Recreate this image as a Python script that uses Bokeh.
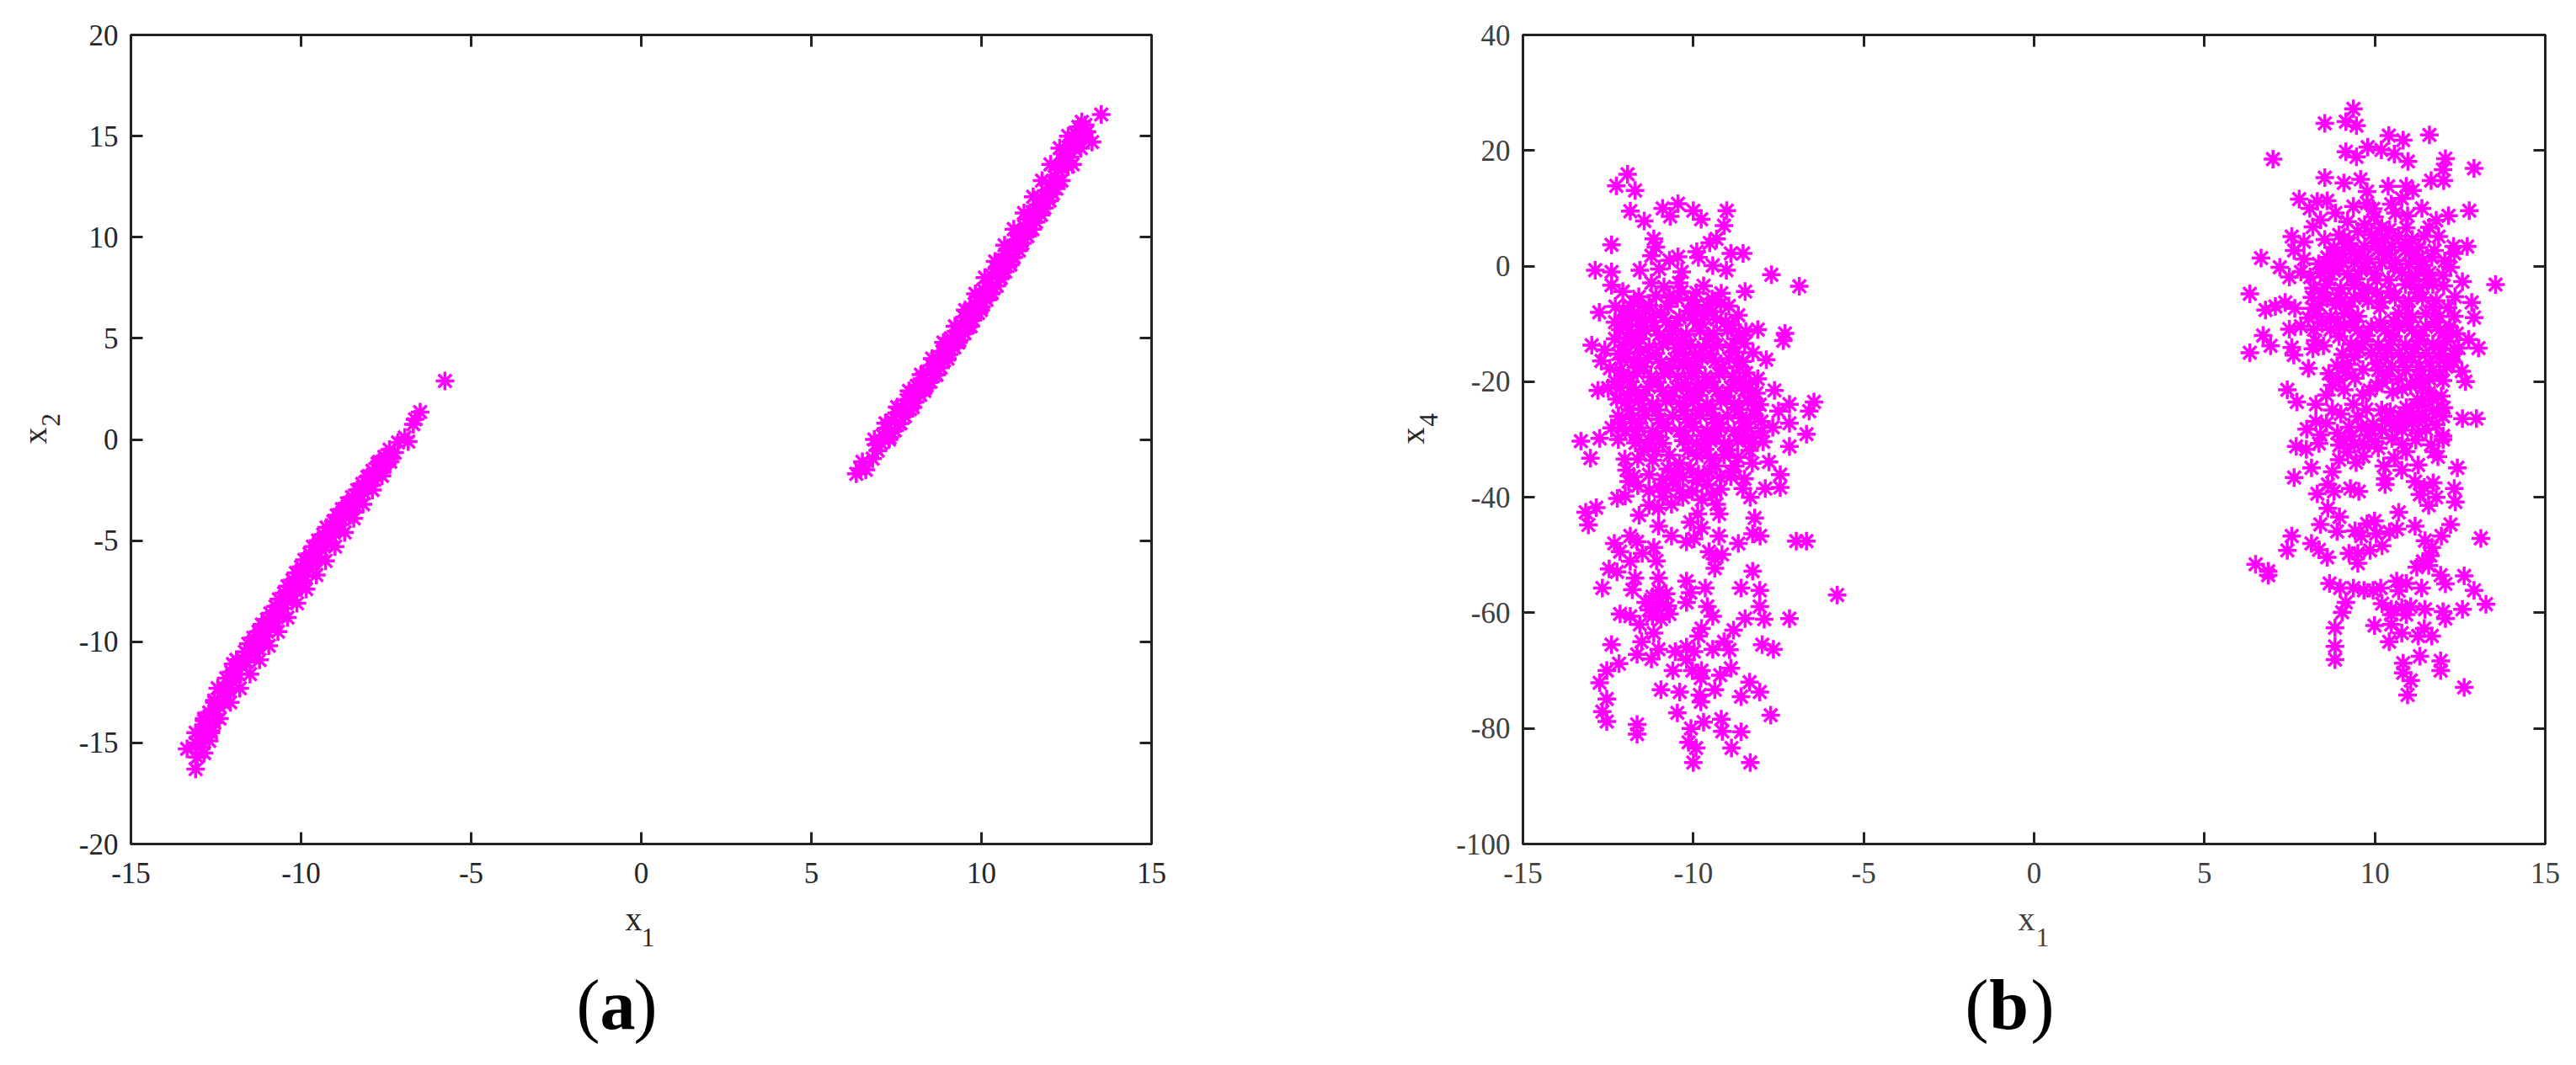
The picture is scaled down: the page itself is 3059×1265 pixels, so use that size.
from math import pi
from bokeh.core.properties import value
from bokeh.embed import file_html
from bokeh.layouts import column, row
from bokeh.models import ColumnDataSource, FixedTicker, LinearAxis, Range1d
from bokeh.plotting import figure
from bokeh.resources import INLINE

x1_ticks = [-15, -10, -5, 0, 5, 10, 15]
x2_ticks = [-20, -15, -10, -5, 0, 5, 10, 15, 20]
x4_ticks = [-100, -80, -60, -40, -20, 0, 20, 40]
MAGENTA = "#ff00ff"
AXIS = "#222222"
FONT = "Liberation Serif"

a_left = [
(-13.35,-15.3),(-13.1,-16.3),(-13.05,-15.7),(-13.1,-15.0),(-12.95,-15.2),(-12.85,-15.5),(-12.9,-14.5),(-12.7,-14.9),
(-12.65,-14.4),(-12.85,-13.9),(-12.55,-14.0),(-12.5,-13.6),(-12.7,-13.5),(-12.4,-13.2),(-12.55,-12.9),(-12.3,-13.0),
(-12.25,-12.5),(-12.45,-12.3),(-12.15,-12.4),(-12.2,-11.8),(-12.0,-12.0),(-12.05,-11.5),(-11.85,-11.6),(-12.0,-11.1),
(-11.75,-11.2),(-11.9,-10.9),(-11.6,-11.0),(-11.65,-10.5),(-11.45,-10.6),(-11.55,-10.1),(-11.3,-10.3),(-11.4,-9.8),
(-11.15,-10.0),(-11.25,-9.5),(-11.05,-9.7),(-11.15,-9.15),(-10.9,-9.3),(-11.0,-8.9),(-10.75,-9.0),(-10.9,-8.6),
(-10.65,-8.7),(-10.75,-8.25),(-10.5,-8.35),(-10.65,-7.9),(-10.4,-8.0),(-10.5,-7.6),(-10.25,-7.7),(-10.4,-7.25),
(-10.15,-7.4),(-10.25,-6.95),(-10.0,-7.1),(-10.15,-6.6),(-9.9,-6.75),(-10.0,-6.3),(-9.75,-6.4),(-9.9,-5.95),
(-9.65,-6.1),(-9.75,-5.65),(-9.5,-5.8),(-9.65,-5.3),(-9.4,-5.45),(-9.5,-5.0),(-9.25,-5.1),(-9.35,-4.7),
(-9.1,-4.8),(-9.25,-4.35),(-9.0,-4.5),(-9.05,-4.05),(-8.85,-4.2),(-8.95,-3.75),(-8.7,-3.85),(-8.8,-3.45),
(-8.55,-3.6),(-8.65,-3.15),(-8.4,-3.3),(-8.5,-2.85),(-8.3,-3.0),(-8.35,-2.5),(-8.15,-2.65),(-8.2,-2.2),
(-8.0,-2.3),(-8.05,-1.85),(-7.85,-2.0),(-7.9,-1.55),(-7.7,-1.65),(-7.75,-1.2),(-7.55,-1.35),(-7.55,-0.85),
(-7.4,-0.95),(-7.4,-0.5),(-7.25,-0.65),(-7.15,-0.15),(-6.95,0.1),(-6.85,-0.1),(-6.65,1.0),(-6.7,0.75),(-6.5,1.35),(-5.77,2.89),
(-13.1,-14.5),(-12.65,-14.5),(-12.85,-13.8),(-12.4,-13.8),(-12.55,-13.0),(-12.08,-13.0),(-12.25,-12.3),(-11.8,-12.3),
(-11.95,-11.6),(-11.5,-11.6),(-11.7,-10.9),(-11.22,-10.9),(-11.4,-10.2),(-10.95,-10.2),(-11.12,-9.5),(-10.68,-9.5),
(-10.85,-8.8),(-10.4,-8.8),(-10.55,-8.1),(-10.12,-8.1),(-10.28,-7.4),(-9.85,-7.4),(-10.0,-6.7),(-9.55,-6.7),
(-9.72,-6.0),(-9.28,-6.0),(-9.45,-5.3),(-9.0,-5.3),(-9.15,-4.6),(-8.72,-4.6),(-8.88,-3.9),(-8.45,-3.9),
(-8.6,-3.2),(-8.18,-3.2),(-8.3,-2.5),(-7.9,-2.5),(-8.0,-1.8),(-7.62,-1.8),(-7.7,-1.1),(-7.38,-1.1),
]
a_right = [
(6.32,-1.7),(6.45,-1.45),(6.6,-1.5),(6.5,-1.1),(6.8,-0.95),(6.95,-0.55),(7.05,-0.2),(6.9,-0.25),(7.1,0.2),(7.3,0.1),
(7.2,0.55),(7.45,0.45),(7.35,0.95),(7.6,0.8),(7.5,1.3),(7.75,1.15),(7.65,1.6),(7.9,1.5),(7.8,1.95),(8.05,1.85),
(7.95,2.3),(8.2,2.2),(8.1,2.65),(8.35,2.55),(8.25,3.0),(8.5,2.85),(8.4,3.35),(8.65,3.2),(8.55,3.65),(8.8,3.55),
(8.7,4.0),(8.9,3.9),(8.85,4.35),(9.05,4.2),(8.95,4.7),(9.2,4.55),(9.1,5.0),(9.35,4.9),(9.25,5.35),(9.5,5.25),
(9.4,5.7),(9.6,5.55),(9.5,6.05),(9.75,5.9),(9.65,6.4),(9.9,6.25),(9.8,6.7),(10.0,6.55),(9.9,7.05),(10.15,6.9),
(10.05,7.4),(10.3,7.25),(10.2,7.75),(10.45,7.6),(10.3,8.1),(10.55,7.95),(10.45,8.45),(10.7,8.3),(10.6,8.8),(10.85,8.65),
(10.7,9.15),(10.95,9.0),(10.85,9.5),(11.1,9.35),(11.0,9.85),(11.2,9.7),(11.1,10.2),(11.35,10.05),(11.25,10.55),(11.5,10.4),
(11.4,10.9),(11.6,10.75),(11.5,11.25),(11.75,11.1),(11.65,11.6),(11.85,11.45),(11.75,11.95),(12.0,11.8),(11.9,12.3),(12.1,12.15),
(12.0,12.65),(12.2,12.4),(12.15,13.0),(12.35,12.8),(12.25,13.35),(12.68,13.6),(12.4,13.7),(12.55,13.5),(12.45,14.1),(12.6,13.95),
(12.6,14.45),(12.92,14.4),(12.7,14.8),(12.85,14.7),(12.75,15.15),(13.25,14.7),(13.0,14.95),(13.1,15.2),(12.85,15.45),(12.95,15.7),(13.05,15.55),(13.52,16.07),
(6.85,0),(7.28,0),(7.18,0.8),(7.62,0.8),(7.52,1.6),(7.98,1.6),(7.87,2.4),(8.32,2.4),(8.22,3.2),(8.68,3.2),(8.55,4),(9.0,4),
(8.88,4.8),(9.32,4.8),(9.22,5.6),(9.68,5.6),(9.52,6.4),(9.98,6.4),(9.82,7.2),(10.28,7.2),(10.1,8),(10.56,8),(10.4,8.8),(10.85,8.8),
(10.68,9.6),(11.13,9.6),(10.95,10.4),(11.42,10.4),(11.25,11.2),(11.7,11.2),(11.52,12),(11.98,12),(11.78,12.8),(12.25,12.8),
(12.03,13.6),(12.48,13.6),(12.3,14.4),(12.72,14.4),(12.55,15),(12.9,15),
]
b_left = [
(-11.93,15.9),(-12.26,13.9),(-11.71,13.1),(-11.85,9.5),(-11.44,7.8),(-10.9,10),(-10.68,8.6),(-10.45,10.8),(-10,9.6),(-9.77,8.1),
(-9.02,9.6),(-9.1,7.0),(-9.32,4.7),(-9.52,4),(-11.16,4.7),(-11.1,3.3),(-12.4,3.7),(-11.23,1.8),(-9.9,2.5),(-9.85,1.5),(-8.9,2.2),
(-8.54,2.2),(-10.7,1),(-10.45,1.6),(-9.43,.1),(-9.03,-.7),(-12.88,-.7),(-12.4,-1),(-11.57,-.7),(-11,-.5),(-10.34,-1),(-7.71,-1.5),
(-6.89,-3.5),(-12.4,-3.3),(-12.07,-4.4),(-11.23,-2.9),(-10.42,-2.9),(-9.7,-3.4),(-8.48,-4.4),(-9.18,-4.7),(-9.91,-4.6),(-11.1,-5.1),
(-10.47,-5.6),(-10.86,-3.6),(-12.29,-7),(-12.76,-8),(-11.74,-6.3),(-11.3,-6.8),(-10.75,-7),(-9.92,-6.8),(-9.6,-6.8),(-8.96,-6.9),
(-8.68,-8.5),(-9.32,-9.2),(-8.11,-11),(-8.46,-11.3),(-7.31,-11.65),(-7.36,-12.9),(-7.86,-16.2),(-12.98,-13.7),(-12.6,-14.5),
(-12.7,-16.4),(-12.45,-17.7),(-8.11,-19.5),(-7.62,-21.5),(-12.8,-21.5),(-12.5,-21.1),(-6.46,-23.5),(-6.6,-25.1),(-7.18,-23.9),
(-7.5,-25.1),(-7.18,-27.2),(-7.67,-27.9),(-6.68,-29.1),(-13.3,-30.3),(-13.02,-33.25),(-12.75,-29.8),(-7.18,-31.2),
(-12.01,-33.4),(-11.63,-33.4),(-11.19,-33.6),(-10.7,-32.7),(-10.4,-34.1),(-11.96,-35.3),(-11.3,-36.1),(-11.9,-37.3),(-11.63,-38),
(-11,-38.3),(-12.23,-40.2),(-12.85,-41.8),(-13.16,-42.6),(-13.08,-44.8),(-11.59,-43.1),(-11.3,-41.4),(-11.02,-41.9),(-11.02,-45),
(-10.64,-41.2),(-10.31,-40),(-10.03,-39),(-10.09,-35.1),(-9.54,-35.6),(-9.21,-36.6),(-8.77,-34.6),(-8.27,-34.1),(-7.78,-33.9),
(-7.45,-36.1),(-7.45,-38.3),(-7.89,-38.5),(-8.55,-38.5),(-8.33,-40),(-9.32,-41.2),(-9.24,-42.9),(-8.2,-43.6),(-8.26,-46.3),
(-8.04,-46.7),(-9.25,-46.7),(-8.68,-48),(-6.98,-47.6),(-6.68,-47.6),(-9.87,-42.9),(-10.09,-44.3),(-9.76,-45.3),(-10.64,-46.7),
(-10.2,-47.7),(-9.98,-47.2),(-9.54,-49.4),(-9.16,-49.9),(-9.37,-50.6),(-9.37,-52.3),(-11.85,-46.7),(-11.65,-47.7),(-12.32,-48),
(-12.15,-49.4),(-11.16,-48.7),(-11.5,-49.7),(-11.85,-51.1),(-11.08,-51),(-12.47,-52.4),(-12.24,-52.9),(-11.71,-54),(-11.02,-54),
(-12.67,-55.7),(-11.79,-56),(-8.26,-52.8),(-8.6,-55.7),(-8.05,-56.1),(-5.78,-56.9),(-9.65,-55.7),(-10.2,-54.5),(-10.09,-56.5),
(-10.2,-58.2),(-9.59,-58.9),(-9.43,-60.6),(-8.05,-58.9),(-7.92,-61.1),(-8.48,-61),(-7.18,-61),(-11,-56.2),(-11.2,-57.2),(-10.8,-56.7),
(-11.4,-58.2),(-11,-58.2),(-10.7,-60.2),(-11.2,-60.6),(-10.95,-61.1),(-11.3,-59.5),(-11.05,-59.5),(-10.75,-58.8),(-12.15,-60.2),(-11.85,-60.6),
(-11.57,-62),(-11.16,-63.5),(-9.76,-62.7),(-9.85,-64),(-8.82,-63),(-9.1,-65),(-7.98,-65.5),(-7.65,-66.3),(-12.4,-65.5),(-11.52,-65),
(-11.65,-67.2),(-11.02,-66.3),(-11.23,-68),(-10.53,-66.7),(-10.2,-65.9),(-9.98,-66.7),(-9.43,-66.3),(-8.94,-66.4),(-10.2,-68.1),
(-12.18,-68.8),(-12.54,-70),(-12.75,-72.1),(-10.6,-70),(-10.03,-70),(-9.76,-70),(-9.78,-71.3),(-9.21,-70.8),(-8.9,-69.6),(-8.35,-72),
(-8.05,-73.7),(-9.37,-73.3),(-8.6,-74.5),(-10.95,-73.3),(-10.4,-73.7),(-9.81,-74.2),(-9.78,-75.4),(-12.54,-74.9),(-12.67,-77.1),
(-12.54,-78.8),(-10.47,-77.3),(-7.73,-77.7),(-9.7,-78.9),(-9.18,-78.4),(-9.15,-80.5),(-8.6,-80.6),(-10.07,-80),(-11.65,-79.3),
(-11.65,-81),(-10.14,-82.4),(-9.92,-83.4),(-8.88,-83.4),(-10,-85.9),(-8.33,-85.9),
# dense core
(-12.0,-9),(-11.6,-9.4),(-11.2,-8.8),(-10.8,-9.6),(-10.4,-8.9),(-10.0,-9.3),(-9.7,-8.6),(-12.15,-11),(-11.8,-11.6),(-11.4,-11.1),
(-11,-11.9),(-10.6,-11.3),(-10.2,-11.8),(-9.8,-11.2),(-9.4,-11.7),(-9,-11.1),(-12.05,-13.8),(-11.7,-13.3),(-11.3,-14),(-10.9,-13.5),
(-10.5,-14.2),(-10.1,-13.6),(-9.7,-14.1),(-9.3,-13.6),(-8.9,-14),(-8.5,-13.4),(-12.1,-16.1),(-11.75,-16.6),(-11.35,-16),(-10.95,-16.7),
(-10.55,-16.1),(-10.15,-16.5),(-9.75,-15.9),(-9.35,-16.5),(-8.95,-16),(-8.55,-16.5),(-12.05,-19),(-11.65,-18.5),(-11.25,-19.2),(-10.85,-18.6),
(-10.45,-19.1),(-10.05,-18.5),(-9.65,-19.2),(-9.25,-18.6),(-8.85,-19.1),(-8.45,-18.5),(-12.15,-21),(-11.7,-21.5),(-11.3,-20.9),(-10.9,-21.6),
(-10.5,-21),(-10.1,-21.5),(-9.7,-21),(-9.3,-21.6),(-8.9,-21),(-8.5,-21.5),(-8.15,-22),(-12,-23.6),(-11.6,-23.2),(-11.2,-23.9),(-10.8,-23.3),
(-10.4,-23.8),(-10,-23.2),(-9.6,-23.9),(-9.2,-23.3),(-8.8,-23.8),(-8.4,-23.4),(-8.05,-24),(-12.2,-26),(-11.8,-26.4),(-11.4,-25.8),(-11,-26.5),
(-10.6,-25.9),(-10.2,-26.4),(-9.8,-25.8),(-9.4,-26.4),(-9,-25.9),(-8.6,-26.3),(-8.2,-25.9),(-12.4,-28),(-12,-28.5),(-11.6,-28),(-11.2,-28.6),
(-10.8,-28),(-10.4,-28.5),(-10,-27.9),(-9.6,-28.5),(-9.2,-28),(-8.8,-28.5),(-8.4,-28),(-8,-28.6),(-11.7,-30.6),(-11.3,-30.1),(-10.9,-30.7),
(-10.3,-30.2),(-9.9,-30.7),(-9.5,-30.2),(-9.1,-30.7),(-8.7,-30.2),(-8.3,-30.7),(-9.9,-32.8),(-9.5,-33.2),(-9.1,-32.7),(-8.7,-33.1),
(-9.6,-37.8),(-9.2,-38.6),(-10.6,-37),(-10.8,-38.6),(-10.4,-38.8),(-9.9,-37.2),(-8.9,-36.4),(-8.5,-36.8),
# second core layer
(-11.4,-7.7),(-10.95,-8.1),(-10.15,-7.8),(-9.45,-7.9),(-10.55,-10.2),(-11.15,-10.4),(-9.75,-9.9),(-9.05,-9.6),(-11.55,-12.6),(-10.75,-12.4),
(-10.35,-12.9),(-9.55,-12.5),(-8.75,-12.6),(-11.95,-12.4),(-11.1,-15.1),(-10.3,-15),(-9.5,-15.2),(-8.75,-14.9),(-11.55,-14.9),(-9.95,-15.3),
(-11.45,-17.4),(-10.7,-17.7),(-9.9,-17.5),(-9.15,-17.6),(-10.3,-17.2),(-8.65,-17.4),(-11.85,-20),(-11.05,-20.1),(-10.25,-20.2),(-9.45,-20),(-8.65,-20),
(-9.85,-20.4),(-11.45,-22.3),(-10.65,-22.5),(-9.85,-22.4),(-9.05,-22.6),(-8.3,-22.7),(-10.2,-22.7),(-11.85,-24.8),(-11.05,-24.9),(-10.25,-25),
(-9.45,-24.7),(-8.65,-24.8),(-9.85,-24.9),(-11.6,-27.2),(-10.9,-27.2),(-10.05,-27),(-9.3,-27.2),(-8.5,-27.1),(-11.05,-29.5),(-10.25,-29.4),
(-9.35,-29.4),(-8.55,-29.5),(-9.7,-29.3),(-8.95,-31.8),(-9.65,-31.7),(-10.15,-31.9),(-11.1,-32),(-8.35,-31.9),(-9.35,-34.6),(-8.9,-35.6),
(-9.85,-36),(-10.3,-36.5),(-9.45,-39.5),(-9.75,-40.4),(-10.9,-39.9),
# third core layer
(-12.05,-7.6),(-11.8,-8.4),(-12.3,-9.7),(-11.95,-10.2),(-11.55,-10.4),(-12.3,-12.6),(-11.95,-15.1),(-12.2,-15.2),(-11.65,-17.5),(-12.15,-18),
(-12.3,-20),(-11.9,-22.4),(-12.25,-23),(-11.5,-24.7),(-12.1,-27.1),(-11.7,-29.2),(-12.2,-30),(-11.45,-31.7),(-10.55,-35.6),(-10.75,-35.1),
(-10.9,-36.9),(-11.3,-38.9),(-12,-39.8),(-11.75,-36.4),(-8.3,-29.6),(-7.95,-30.4),(-8,-26.9),(-8.2,-24.8),(-8.35,-20.4),(-8.25,-15),(-8.65,-12),
(-8.85,-10.2),(-9.9,-7.8),(-9.2,-6.5),(-10.05,-5.9),(-10.7,-5.4),(-11.6,-5.3),(-10.35,-4.4),(-9.45,-5.7),(-11.5,-8.9),(-11.85,-6.9),
]
b_right = [
(9.37,27.2),(9.15,25),(9.46,24.3),(8.53,24.7),(10.41,22.6),(10.83,21.8),(11.6,22.7),(9.79,20.6),(10.19,20.1),(10.57,19.4),(9.15,19.8),
(9.46,18.9),(10.97,18.1),(7.01,18.5),(12.07,18.6),(12.0,16.7),(12.91,16.9),(12.02,14.8),(11.65,14.8),(8.53,15.3),(9.09,14.4),(9.58,15),
(10.39,13.8),(10.92,13.8),(11.11,13.1),(9.77,12.9),(7.78,11.6),(8.31,11.2),(8.6,11.3),(8.09,10),(10.48,10.7),(10.79,11.7),(9.37,10.3),
(9.77,10.9),(11.38,10),(12.77,9.6),(12.16,8.7),(11.8,7.9),(8.84,9.2),(8.4,8),(8.18,6.8),(10.96,8.7),(9.99,8.5),(10.43,6.3),(10.92,6.6),
(7.56,5.1),(7.92,4.2),(11.87,5.1),(12.31,3.4),(12.71,3.4),(8.53,4.6),(7.63,2.7),(6.66,1.4),(7.21,-.2),(7.92,1.2),(12.33,2.2),(11.67,1.5),
(12.22,-.2),(7.49,-1.9),(7.83,-1),(12.57,-2.7),(13.54,-3.2),(6.33,-4.8),(12.02,-3.4),(12.84,-6.3),(12.91,-8.9),(12.33,-8.7),(7.37,-6.3),
(7.08,-7),(6.79,-7.6),(7.65,-7.3),(8.18,-7.3),(7.49,-10.9),(7.83,-10.4),(8.21,-11),(6.72,-12),(6.94,-13.8),(6.33,-15),(7.56,-14.1),
(7.62,-15.4),(8.18,-14.3),(8.49,-13.8),(8.05,-17.7),(13.04,-14.2),(12.46,-14.2),(12.55,-18.2),(12.66,-20),(8.89,-17.2),(9.42,-19.4),
(8.75,-20.6),(7.43,-21.4),(7.71,-23.5),(9.64,-22.3),(8.58,-22.3),(10.52,-21.8),(10.21,-20.1),(9.37,-23.9),(8.27,-23.9),(11.05,-20.6),
(11.58,-22),(12.02,-24.5),(12.57,-26.4),(12.98,-26.4),(8.27,-26.9),(8.58,-27.2),(8.0,-28.2),(9.24,-27.9),(9.6,-27.9),(9.95,-27.4),(10.3,-26.7),
(10.74,-26),(10.92,-24.5),(11.8,-27.4),(11.27,-28.9),(12,-29.4),(7.69,-31.2),(7.99,-31.7),(8.36,-30.7),(8.96,-31),(9.66,-32.9),(9.68,-31),
(12,-30),(11.73,-32.1),(12.42,-34.9),(8.14,-34.9),(8.75,-35.6),(7.63,-36.6),(8.62,-37.8),(8.31,-39.4),(8.8,-39),(9.28,-38.5),(9.53,-39),
(8.62,-41.9),(8.96,-43.4),(8.4,-44.7),(8.89,-45.9),(7.56,-46.7),(7.43,-49.2),(8.14,-48),(8.36,-49.1),(8.6,-50.4),(6.5,-51.6),(6.87,-52.8),(6.87,-53.5),
(10.26,-34.6),(10.57,-33.2),(10.92,-32.1),(11.27,-34.4),(10.79,-35.3),(10.3,-37.8),(10.3,-36.8),(11.18,-37.3),(11.71,-37.5),(11.45,-38.3),
(11.32,-39.5),(11.8,-40),(11.58,-41.4),(12.33,-38.5),(12.36,-40.8),(10.7,-42.6),(12.22,-44.7),(11.18,-45),(13.11,-47.1),(11.95,-46.7),(11.47,-47.5),(11.67,-48.7),
(9.42,-45.8),(9.77,-44.6),(9.99,-44.1),(9.6,-46.7),(10.04,-46.3),(10.43,-46),(10.65,-45.5),(10.21,-48.4),(9.86,-49.2),(9.5,-49.7),(9.24,-49.7),(9.5,-51.4),
(11.63,-50.1),(11.41,-51.1),(11.23,-52.1),(11.58,-51.8),(11.93,-53.5),(12.07,-55),(12.62,-53.6),(12.91,-56.1),(13.26,-58.5),(8.67,-54.9),(8.98,-55.7),
(9.37,-55.7),(9.68,-56.1),(9.95,-56.1),(10.17,-55.7),(10.64,-54.5),(10.92,-54.9),(10.7,-56.2),(11.37,-55.7),(9.15,-58.2),(9.04,-59.9),(10.21,-58.4),
(10.48,-59.4),(10.79,-59.1),(11.05,-58.9),(11.47,-59.4),(10.92,-60.3),(10.48,-60.3),(12,-59.8),(12.07,-61),(12.57,-59.4),(8.83,-62.6),(9.99,-62.2),
(10.48,-62),(10.79,-63.5),(11.27,-64),(11.45,-62.7),(11.67,-64),(10.42,-65),(8.83,-65.8),(8.83,-68.1),(11.32,-67.5),(10.83,-68.7),(11.93,-68.3),
(11.93,-70),(10.83,-70.4),(11.05,-71.7),(12.62,-72.9),(10.96,-74.2),
# dense core
(9.5,6),(9.9,5.4),(10.3,4.8),(10.7,5.2),(11.1,4.6),(9.1,4.8),(8.8,3.2),(9.3,2.8),(9.7,3.4),(10.1,2.8),(10.5,3.3),(10.9,2.7),(11.3,3.2),(8.6,1.5),
(9,1),(9.4,0.6),(9.8,1.2),(10.2,0.6),(10.6,1),(11,0.4),(11.4,0.9),(8.4,-1.2),(8.8,-0.8),(9.2,-1.4),(9.6,-0.7),(10,-1.3),(10.4,-2.4),(10.8,-1.1),
(11.2,-1.6),(11.6,-1.2),(8.2,-3.8),(8.6,-3.2),(9,-3.9),(9.4,-3.3),(9.8,-3.8),(10.9,-3.2),(11.3,-3.7),(11.7,-3.2),(8.6,-5.6),(9,-6.1),(9.4,-5.5),
(9.8,-6),(10.2,-6.2),(10.6,-5.4),(11,-6),(11.4,-5.5),(11.8,-6),(8.3,-8.3),(8.7,-8.8),(9.1,-8.2),(9.5,-8.7),(10.7,-8.2),(11.1,-8.8),(11.5,-8.2),(11.9,-8.7),
(8.7,-11),(9.1,-10.5),(9.5,-11.1),(9.9,-10.5),(10.3,-11.1),(10.7,-10.5),(11.1,-11.1),(11.5,-10.5),(11.9,-11.1),(12.2,-10.6),(9.3,-13.5),(9.7,-13),
(10.1,-13.6),(10.5,-12.9),(10.9,-13.6),(11.3,-13),(11.7,-13.5),(12.1,-13),(9.4,-15.6),(9.9,-15.1),(10.3,-15.7),(10.7,-15.1),(11.1,-15.7),(11.5,-15.1),
(11.9,-15.7),(12.3,-15.2),(9.2,-17),(10.1,-18),(10.5,-17.4),(10.9,-18),(11.3,-17.4),(11.7,-18),(12.1,-17.4),(10.7,-19.6),(11.2,-20),(11.6,-19.5),(12,-19.8),
(11.4,-24),(11.7,-25),(12,-26),(11.5,-26.2),(11.05,-25.2),(10.6,-27.6),(10.2,-28.4),(9.8,-29.2),(9.3,-29.4),(10.8,-28.4),(9.1,-30.2),(9.4,-30.8),(10,-30.4),(10.5,-29.8),
# second core layer
(9.25,3.9),(10.05,4),(10.9,4),(9.55,1.9),(10.35,2),(11.15,1.9),(9.05,2.1),(8.95,-0.1),(9.75,-0.2),(10.55,-0.3),(11.35,-0.2),(8.65,-2.3),(9.45,-2.2),
(10.05,-2.4),(11.05,-2.5),(11.55,-2.4),(8.95,-4.8),(9.65,-4.7),(10.45,-4.4),(11.25,-4.6),(10.05,-4.6),(8.35,-6.7),(9.25,-7),(10.15,-7.2),(10.9,-7),(11.7,-7.1),
(9.35,-9.6),(10.15,-9.8),(10.95,-9.6),(11.75,-9.7),(8.9,-9.7),(10.55,-9.5),(8.95,-12.2),(9.75,-12),(10.55,-12.2),(11.35,-12),(12.1,-12.2),(9.55,-14.4),
(10.35,-14.5),(11.15,-14.3),(11.95,-14.4),(9.05,-15.3),(10.05,-16.8),(10.85,-16.6),(11.6,-16.7),(12.3,-16.6),(9.65,-17.9),(10.35,-19),(11.35,-18.9),(11.9,-19),
(12.25,-16.2),(10.8,-21.3),(11.4,-21),(11.7,-23),(11.25,-23.1),(11.95,-22.5),(10.45,-27),(11.1,-27.1),(10.9,-26.6),(9.9,-28.3),
# third core layer
(8.65,-18.6),(9.15,-18.4),(8.95,-19.6),(10.05,-20.7),(9.1,-21.4),(9.85,-21.5),(9.75,-24.8),(10.2,-24.9),(9,-25.6),(8.75,-24.9),(9.5,-26),(10.45,-25.2),
(11.3,-26.2),(11.5,-28.2),(11.2,-30.1),(10.8,-30.8),(8.9,-28.9),(8.4,-29.2),(10.1,-31.5),(9.2,-32.2),(8.95,-33.5),(9.45,-34),(11.65,-30.9),(11.85,-33),
(8.25,-12.9),(8.45,-9.9),(8.05,-9),(8.85,-6.7),(8.15,-5.4),(8.45,-4.6),(8.1,-1.9),(8.35,0.4),(8.65,-0.1),(8.8,1.9),(8.95,5.4),(9.7,7.2),(10.2,6.6),(9.2,7.7),
(9.95,9.9),(10.6,9.2),(11.6,6.7),(11.45,5.2),(11.75,2.7),(12.05,0.9),(12,-1.6),(12.35,-5.3),(12.15,-7.2),(12.4,-11.7),(12.75,-12.7),
]


def make_panel(points_groups, y_ticks, y_range, width, left, right, label_color):
    p = figure(
        width=width, height=1070, x_range=Range1d(-15, 15), y_range=Range1d(*y_range),
        output_backend="svg", toolbar_location=None, min_border_left=left, min_border_right=right,
        min_border_top=41, min_border_bottom=68,
        background_fill_color="white", border_fill_color="white",
    )
    p.grid.visible = False
    p.outline_line_color = AXIS
    p.outline_line_width = 3

    for group in points_groups:
        src = ColumnDataSource(dict(x=[q[0] for q in group], y=[q[1] for q in group]))
        p.scatter("x", "y", source=src, marker="asterisk", size=22, line_color=MAGENTA, line_width=3.5, fill_color=None)

    def style(axis, ticks, labelled):
        axis.ticker = FixedTicker(ticks=ticks)
        axis.major_tick_in = 14
        axis.major_tick_out = 0
        axis.major_tick_line_width = 3
        axis.major_tick_line_color = AXIS
        axis.minor_tick_line_color = None
        axis.axis_line_color = AXIS
        axis.axis_line_width = 3
        axis.major_label_text_font = FONT
        axis.major_label_text_font_size = "35px"
        axis.major_label_text_color = label_color
        axis.major_label_overrides = {v: str(v) for v in ticks}
        if not labelled:
            axis.major_label_text_color = None
            axis.major_label_text_font_size = "1px"

    style(p.xaxis[0], x1_ticks, True)
    style(p.yaxis[0], y_ticks, True)
    p.xaxis[0].major_label_standoff = 22
    p.yaxis[0].major_label_standoff = 15
    top = LinearAxis(major_label_standoff=0)
    rgt = LinearAxis(major_label_standoff=0)
    style(top, x1_ticks, False)
    style(rgt, y_ticks, False)
    p.add_layout(top, "above")
    p.add_layout(rgt, "right")
    return p


def make_strip(x0, x1, y0, y1):
    """A bare figure whose ranges are page pixels, holding only text."""
    s = figure(
        width=x1 - x0, height=y1 - y0, x_range=Range1d(x0, x1), y_range=Range1d(y1, y0),
        x_axis_location=None, y_axis_location=None, output_backend="svg", toolbar_location=None,
        min_border=0, min_border_left=0, min_border_right=0, min_border_top=0, min_border_bottom=0,
        background_fill_color="white", border_fill_color="white",
    )
    s.grid.visible = False
    s.outline_line_color = None
    return s


def add_text(s, px, py, text, size, color, bold=False, angle=0.0):
    s.text(
        x=[px], y=[py], text=[text], text_font=value(FONT), text_font_size=value(f"{size}px"),
        text_color=color, text_font_style="bold" if bold else "normal",
        text_align="center", text_baseline="middle", angle=angle,
    )


pa = make_panel([a_left, a_right], x2_ticks, (-20, 20), 1420, 75, 133, "#262626")
pb = make_panel([b_left, b_right], x4_ticks, (-100, 40), 1331, 88, 29, "#404040")

ya = make_strip(0, 80, 0, 1070)
yb = make_strip(1500, 1720, 0, 1070)
bottom = make_strip(0, 3051, 1070, 1249)

add_text(bottom, 752, 1091, "x", 40, "#262626")
add_text(bottom, 769, 1113, "1", 31, "#262626")
add_text(bottom, 2406, 1091, "x", 40, "#404040")
add_text(bottom, 2425, 1113, "1", 31, "#404040")
add_text(ya, 41, 530, "x", 40, "#262626", angle=pi / 2)
add_text(ya, 60, 509, "2", 31, "#262626", angle=pi / 2)
add_text(yb, 1677, 530, "x", 40, "#262626", angle=pi / 2)
add_text(yb, 1696, 509, "4", 31, "#262626", angle=pi / 2)

add_text(bottom, 698, 1193, "(", 84, "#000000")
add_text(bottom, 733, 1193, "a", 84, "#000000", bold=True)
add_text(bottom, 766, 1193, ")", 84, "#000000")
add_text(bottom, 2347, 1193, "(", 84, "#000000")
add_text(bottom, 2385, 1193, "b", 84, "#000000", bold=True)
add_text(bottom, 2425, 1193, ")", 84, "#000000")

page = column(row(ya, pa, yb, pb, spacing=0), bottom, spacing=0)
open("out.html", "w").write(file_html(page, INLINE))
